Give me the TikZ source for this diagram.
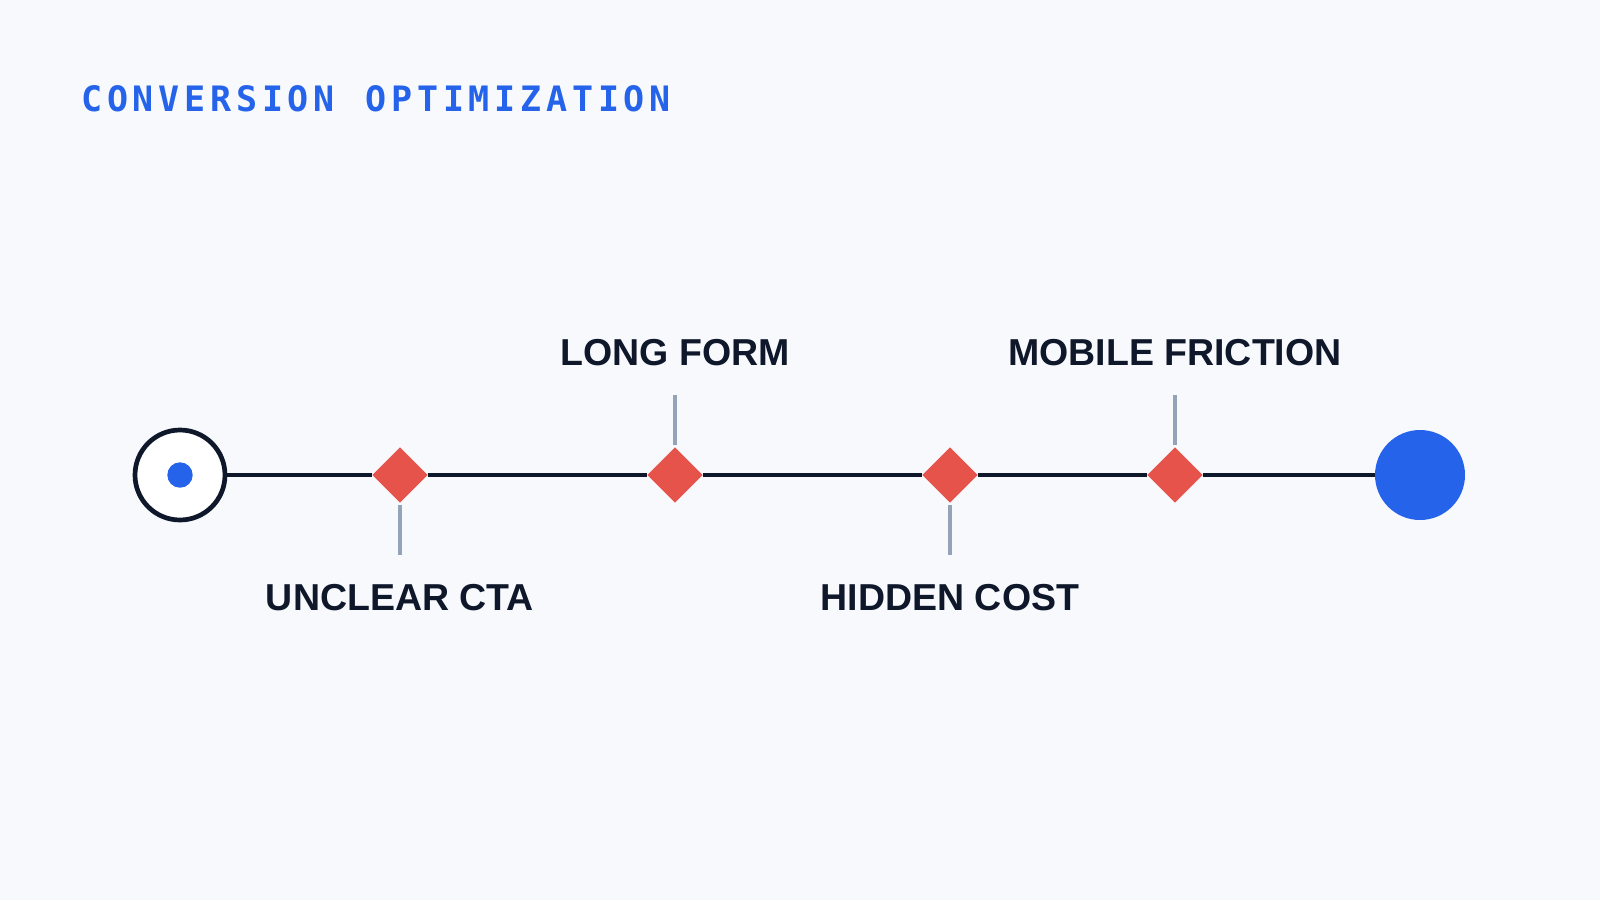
\documentclass[tikz,border=0pt]{standalone}
\usepackage{fontspec}
\setmainfont{Liberation Sans}
\newfontfamily\titlefont{DejaVu Sans Mono}[BoldFont={DejaVu Sans Mono Bold}]
\usetikzlibrary{shapes.geometric}
\definecolor{bgc}{HTML}{F7F9FC}
\definecolor{bluec}{HTML}{2563EB}
\definecolor{redc}{HTML}{E5534B}
\definecolor{darkc}{HTML}{0F172A}
\definecolor{tickc}{HTML}{94A3B8}
\newcommand\spacedtitle[1]{\spacedloop#1\relax}
\def\spacedloop#1{\ifx#1\relax\else\makebox[25.85pt][l]{#1}\expandafter\spacedloop\fi}
\tikzset{
  marker/.style={diamond, fill=redc, inner sep=0pt, minimum width=55.5pt, minimum height=55.5pt},
  tickline/.style={draw=tickc, line width=3.5pt},
  label/.style={anchor=base, inner sep=0pt, text=darkc, font=\fontsize{37.5}{40}\selectfont\bfseries},
  rail/.style={draw=darkc, line width=4.8pt},
}
\begin{document}
\begin{tikzpicture}[x=1pt,y=-1pt]
\fill[bgc] (0,0) rectangle (1600,900);
\useasboundingbox (0,0) rectangle (1600,900);
\node[anchor=base west, inner sep=0pt, text=bluec, font=\titlefont\bfseries\fontsize{35}{38}\selectfont] (title) at (81,111) {\spacedtitle{CONVERSION~OPTIMIZATION}};
% start and end
\node[circle, draw=darkc, fill=white, line width=4.7pt, minimum size=90pt, inner sep=0pt] (s) at (180,475) {};
\node[circle, fill=bluec, minimum size=25.4pt, inner sep=0pt] (sdot) at (180,475) {};
\node[circle, fill=bluec, minimum size=90pt, inner sep=0pt] (e) at (1420,475) {};
% markers
\node[marker] (d1) at (400,475) {};
\node[marker] (d2) at (675,475) {};
\node[marker] (d3) at (950,475) {};
\node[marker] (d4) at (1175,475) {};
% rail
\draw[rail] (s) -- (d1);
\draw[rail] (d1) -- (d2);
\draw[rail] (d2) -- (d3);
\draw[rail] (d3) -- (d4);
\draw[rail] (d4) -- (e);
% ticks
\coordinate (t1a) at (400,505); \coordinate (t1b) at (400,555);
\coordinate (t2a) at (675,445); \coordinate (t2b) at (675,395);
\coordinate (t3a) at (950,505); \coordinate (t3b) at (950,555);
\coordinate (t4a) at (1175,445); \coordinate (t4b) at (1175,395);
\draw[tickline] (t1a) -- (t1b);
\draw[tickline] (t2a) -- (t2b);
\draw[tickline] (t3a) -- (t3b);
\draw[tickline] (t4a) -- (t4b);
% labels
\node[label] (l1) at (400,610) {UNCLEAR CTA};
\node[label] (l2) at (675,365) {LONG FORM};
\node[label] (l3) at (950,610) {HIDDEN COST};
\node[label] (l4) at (1175,365) {MOBILE FRICTION};
\end{tikzpicture}
\end{document}
